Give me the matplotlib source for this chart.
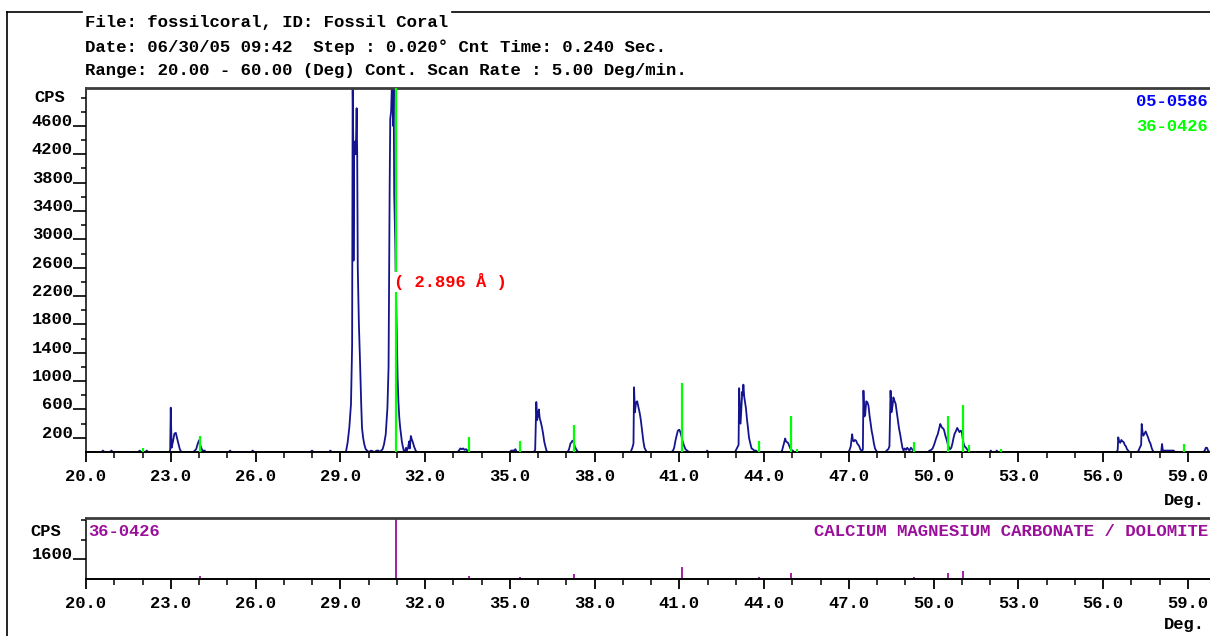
import numpy as np
import matplotlib
matplotlib.use("Agg")
import matplotlib.pyplot as plt
from matplotlib.lines import Line2D
from matplotlib.ticker import FixedLocator, FormatStrFormatter

# ---- scan trace (2-theta deg, counts per second) ----
scan_deg = [
    20.0, 20.55, 20.6, 20.65, 20.85, 20.9, 20.95, 21.85, 21.9, 21.95, 22.1, 22.15, 22.2,
    22.95, 22.98, 23.0, 23.03, 23.08, 23.13, 23.18, 23.22, 23.27, 23.32, 23.38,
    23.8, 23.85, 23.9, 23.95, 24.0, 24.04, 24.08, 24.12, 24.2, 24.25,
    25.05, 25.1, 25.15, 25.85, 25.9, 25.95, 27.95, 28.0, 28.05, 28.6, 28.65, 28.7,
    29.2, 29.26, 29.32, 29.38, 29.42, 29.44, 29.46, 29.47, 29.49, 29.52, 29.55, 29.58,
    29.6, 29.62, 29.66, 29.70, 29.74, 29.77, 29.81, 29.85, 29.9, 29.95, 30.0, 30.1,
    30.2, 30.3, 30.35, 30.4, 30.45, 30.5,
    30.55, 30.61, 30.67, 30.71, 30.73, 30.75, 30.77, 30.8, 30.83, 30.85, 30.87, 30.89,
    30.91, 30.95, 30.97, 31.0, 31.03, 31.06, 31.09, 31.12, 31.15, 31.18, 31.21, 31.26,
    31.3, 31.33, 31.36, 31.4, 31.44, 31.46, 31.5, 31.53, 31.56, 31.6, 31.62, 31.67, 31.71,
    33.15, 33.2, 33.25, 33.3, 33.35, 33.4, 33.45, 33.5, 33.55,
    35.0, 35.05, 35.15, 35.2, 35.25,
    35.85, 35.9, 35.94, 35.97, 36.0, 36.03, 36.06, 36.1, 36.14, 36.18, 36.22, 36.26, 36.3, 36.34,
    37.05, 37.1, 37.15, 37.19, 37.22, 37.26, 37.3, 37.35, 37.4, 37.45,
    39.28, 39.34, 39.38, 39.40, 39.43, 39.47, 39.51, 39.55, 39.6, 39.64, 39.67, 39.7,
    39.73, 39.77, 39.82, 39.86,
    40.72, 40.78, 40.82, 40.86, 40.9, 40.95, 41.0, 41.04, 41.08, 41.12, 41.16, 41.22,
    41.28, 41.34, 41.96, 41.99, 42.02,
    42.96, 43.0, 43.05, 43.1, 43.12, 43.15, 43.17, 43.2, 43.23, 43.25, 43.27, 43.3,
    43.33, 43.36, 43.4, 43.43, 43.47, 43.51, 43.56, 43.6, 43.66, 43.72, 43.76,
    44.6, 44.64, 44.69, 44.72, 44.75, 44.78, 44.81, 44.85, 44.88, 44.92, 44.96, 45.02, 45.06,
    46.98, 47.02, 47.07, 47.12, 47.15, 47.18, 47.22, 47.26, 47.3, 47.36, 47.42, 47.48,
    47.5, 47.52, 47.55, 47.58, 47.62, 47.66, 47.7, 47.74, 47.77, 47.81, 47.85, 47.89,
    47.93, 47.97, 48.01,
    48.3, 48.34, 48.4, 48.44, 48.48, 48.51, 48.55, 48.58, 48.62, 48.66, 48.7, 48.74,
    48.78, 48.82, 48.86, 48.9, 48.94, 48.98, 49.03, 49.07, 49.11, 49.15, 49.2, 49.24,
    49.28, 49.32,
    49.8, 49.86, 49.92, 49.97, 50.02, 50.06, 50.1, 50.15, 50.2, 50.24, 50.28, 50.31,
    50.35, 50.38, 50.42, 50.46, 50.5, 50.55, 50.59, 50.63, 50.67, 50.71, 50.75, 50.8,
    50.84, 50.88, 50.92, 50.96, 51.0, 51.03, 51.06, 51.1, 51.15, 51.2, 51.25, 51.3,
    52.0, 52.03, 52.06, 52.21, 52.24, 52.27,
    56.48, 56.52, 56.54, 56.57, 56.61, 56.65, 56.69, 56.73, 56.77, 56.81, 56.85, 56.89, 56.93,
    57.22, 57.26, 57.3, 57.35, 57.37, 57.4, 57.43, 57.47, 57.51, 57.55, 57.6, 57.64,
    57.68, 57.72, 57.76, 57.8,
    58.06, 58.09, 58.12, 58.2, 58.3, 58.4, 58.5, 58.55,
    59.55, 59.6, 59.64, 59.68, 59.72, 59.76, 60.0,
]
scan_cps = [
    0, 0, 20, 0, 0, 20, 0, 0, 20, 0, 0, 20, 0,
    0, 30, 625, 60, 150, 260, 270, 200, 120, 40, 0,
    0, 20, 40, 110, 165, 100, 60, 20, 20, 0,
    0, 20, 0, 0, 20, 0, 0, 20, 0, 0, 20, 0,
    0, 130, 340, 675, 1500, 5200, 4400, 2700, 4300, 4380, 4200, 4850,
    4200, 2600, 1800, 1280, 700, 340, 200, 110, 40, 20, 0, 20,
    0, 20, 20, 0, 20, 40,
    110, 250, 625, 1200, 2600, 3800, 4700, 4800, 5200, 5200, 4600, 5200,
    3640, 2900, 2270, 1700, 1050, 700, 485, 350, 250, 150, 85, 0,
    20, 60, 20, 60, 150, 50, 226, 180, 150, 100, 70, 20, 0,
    0, 20, 50, 40, 50, 30, 40, 20, 0,
    0, 20, 20, 40, 0,
    0, 30, 705, 450, 520, 600, 480, 420, 350, 260, 150, 80, 20, 0,
    0, 40, 120, 140, 160, 140, 80, 40, 10, 0,
    0, 60, 120, 912, 560, 700, 715, 640, 550, 450, 350, 250,
    150, 60, 20, 0,
    0, 20, 60, 150, 220, 300, 315, 280, 220, 150, 100, 40,
    20, 0, 0, 20, 0,
    0, 20, 60, 100, 900, 600, 400, 620, 850, 800, 950, 780,
    700, 620, 450, 350, 200, 130, 50, 40, 20, 20, 0,
    0, 20, 100, 150, 190, 150, 140, 130, 100, 60, 30, 20, 0,
    0, 20, 80, 250, 160, 150, 170, 160, 120, 90, 30, 20,
    40, 865, 500, 520, 715, 700, 650, 500, 420, 300, 220, 120,
    50, 20, 0,
    0, 20, 40, 80, 865, 560, 650, 770, 720, 680, 560, 430,
    330, 250, 150, 60, 20, 50, 30, 60, 40, 20, 60, 40,
    20, 0,
    0, 20, 30, 50, 100, 150, 200, 250, 330, 395, 360, 340,
    330, 300, 230, 180, 120, 60, 40, 60, 120, 200, 260, 300,
    340, 310, 280, 300, 290, 200, 130, 80, 60, 30, 20, 0,
    0, 20, 0, 0, 20, 0,
    0, 30, 207, 150, 130, 170, 150, 140, 100, 80, 40, 20, 0,
    0, 20, 60, 100, 395, 280, 230, 260, 290, 250, 200, 150,
    120, 60, 20, 0,
    0, 113, 20, 20, 20, 20, 20, 0,
    0, 20, 60, 60, 20, 0, 0,
]

# ---- reference pattern 36-0426 (dolomite) : position, relative intensity % ----
ref_deg = [22.01, 24.03, 30.97, 33.54, 35.36, 37.29, 41.10, 43.81, 44.95, 45.18,
           49.31, 50.52, 51.04, 51.25, 52.38, 58.87]
ref_pct = [1.2, 4.5, 100, 4.2, 3.1, 7.4, 19, 3.0, 9.9, 0.9,
           2.8, 9.9, 13, 2.0, 0.9, 2.2]

header_lines = [
    "File: fossilcoral, ID: Fossil Coral",
    "Date: 06/30/05 09:42  Step : 0.020\u00b0 Cnt Time: 0.240 Sec.",
    "Range: 20.00 - 60.00 (Deg) Cont. Scan Rate : 5.00 Deg/min.",
]

W, H = 1210, 636
MAIN_TOP = 5135
SUB_TOP = 5000
NAVY = "#14148f"
GREEN = "#00ff00"
PURPLE = "#9a109a"

plt.rcParams["font.family"] = ["Liberation Mono", "DejaVu Sans Mono"]
plt.rcParams["font.weight"] = "bold"

fig = plt.figure(figsize=(W / 100, H / 100), dpi=100)
fig.patch.set_facecolor("white")


def fx(px):
    return px / W


def fy(py):
    return 1 - py / H


def style_axes(ax, ymax, major_y, minor_y):
    ax.set_xlim(20, 60)
    ax.set_ylim(0, ymax)
    ax.spines["right"].set_visible(False)
    ax.spines["top"].set_color("#3c3c3c")
    ax.spines["top"].set_linewidth(2)
    ax.spines["left"].set_linewidth(1.1)
    ax.spines["bottom"].set_linewidth(1.4)
    ax.xaxis.set_major_locator(FixedLocator(np.arange(20, 60, 3)))
    ax.xaxis.set_minor_locator(FixedLocator(np.arange(20, 61, 1)))
    ax.xaxis.set_major_formatter(FormatStrFormatter("%.1f"))
    ax.yaxis.set_major_locator(FixedLocator(major_y))
    ax.yaxis.set_minor_locator(FixedLocator(minor_y))
    ax.yaxis.set_major_formatter(FormatStrFormatter("%d"))
    ax.tick_params(axis="x", which="major", length=7.5, width=1.3, pad=5,
                   labelsize=12.3)
    ax.tick_params(axis="x", which="minor", length=4, width=1.1)
    ax.tick_params(axis="y", which="major", length=9.5, width=1.2, pad=0,
                   labelsize=12.3)
    ax.tick_params(axis="y", which="minor", length=3.6, width=1.1)
    for lab in ax.get_yticklabels():
        lab.set_verticalalignment("baseline")
    ax.set_facecolor("white")


# ---- main scan panel ----
ax = fig.add_axes([fx(86), fy(452), fx(1130), (452 - 88) / H])
ax.plot(scan_deg, scan_cps, color=NAVY, lw=1.3, zorder=2)
ax.vlines(ref_deg, 0, np.array(ref_pct) / 100 * MAIN_TOP, color=GREEN, lw=1.6, zorder=3)
style_axes(ax, MAIN_TOP, np.arange(200, 4700, 400),
           list(np.arange(400, 4900, 400)) + [5000])
ax.text(30.9, 2400, "( 2.896 \u00c5 )", color="#ff0000", fontsize=12.3,
        ha="left", va="center", zorder=4,
        bbox=dict(facecolor="white", edgecolor="none", pad=1))

# ---- reference stick panel ----
ax2 = fig.add_axes([fx(86), fy(579), fx(1130), (579 - 518) / H])
ax2.vlines(ref_deg, 0, np.array(ref_pct) / 100 * SUB_TOP, color=PURPLE, lw=1.3)
style_axes(ax2, SUB_TOP, [1600], [3200, 4800])

# ---- texts ----
for i, line in enumerate(header_lines):
    fig.text(fx(85), fy(23 + i * 24), line, fontsize=12.5, ha="left", va="center")

fig.text(fx(34), fy(97), "CPS", fontsize=12.3, ha="left", va="center")
fig.text(fx(30), fy(532), "CPS", fontsize=12.3, ha="left", va="center")
fig.text(fx(1164), fy(500), "Deg.", fontsize=12.3, ha="left", va="center")
fig.text(fx(1164), fy(625), "Deg.", fontsize=12.3, ha="left", va="center")

# right-hand labels: the reference clips these at the edge, keep them whole
fig.text(fx(1208), fy(101), "05-0586", color="#0000ff", fontsize=12.3,
         ha="right", va="center")
fig.text(fx(1208), fy(126), "36-0426", color=GREEN, fontsize=12.3,
         ha="right", va="center")
fig.text(fx(88), fy(532), "36-0426", color=PURPLE, fontsize=12.3,
         ha="left", va="center")
fig.text(fx(1208), fy(532), "CALCIUM MAGNESIUM CARBONATE / DOLOMITE", color=PURPLE,
         fontsize=12.5, ha="right", va="center")

# ---- outer frame ----
fig.add_artist(Line2D([fx(7), fx(7)], [fy(12), fy(636)], color="black", lw=1.2))
fig.add_artist(Line2D([fx(7), fx(82)], [fy(12), fy(12)], color="black", lw=1.2))
fig.add_artist(Line2D([fx(452), fx(1210)], [fy(12), fy(12)], color="black", lw=1.2))

fig.savefig("out.png", dpi=100)
